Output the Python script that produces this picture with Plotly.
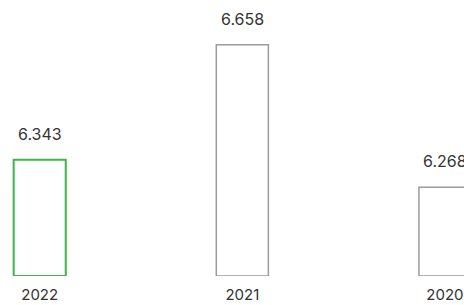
import plotly.graph_objects as go

categories = ["2022", "2021", "2020"]
values = [6.343, 6.658, 6.268]
labels = ["6.343", "6.658", "6.268"]
line_colors = ["#3db54a", "#9b9b9b", "#9b9b9b"]
line_widths = [2, 1.5, 1.5]
axis_base = 6.025

fig = go.Figure()
fig.add_trace(go.Bar(
    x=categories, y=[v - axis_base for v in values], base=axis_base, width=0.257,
    marker=dict(color="rgba(0,0,0,0)", line=dict(color=line_colors, width=line_widths)),
    hoverinfo="skip", cliponaxis=False,
))
for i, (v, t) in enumerate(zip(values, labels)):
    fig.add_annotation(x=i, y=v, xref="x", yref="y", text=t, showarrow=False,
                       yanchor="bottom", yshift=14,
                       font=dict(size=16, color="#333333", family="Inter"))

fig.update_layout(
    width=464, height=305,
    margin=dict(l=0, r=0, t=28, b=29),
    paper_bgcolor="white", plot_bgcolor="white",
    showlegend=False,
    font=dict(family="Inter", color="#333333"),
    xaxis=dict(type="category", range=[-0.196, 2.094], showgrid=False, showline=False,
               zeroline=False, ticks="", automargin=False, ticklabelstandoff=8,
               tickfont=dict(size=15, color="#333333")),
    yaxis=dict(range=[6.025, 6.704], visible=False, automargin=False),
)
fig.write_html(
    "out.html",
    config={"displayModeBar": False},
    post_script="document.body.style.margin='0';document.body.style.overflow='hidden';",
)
